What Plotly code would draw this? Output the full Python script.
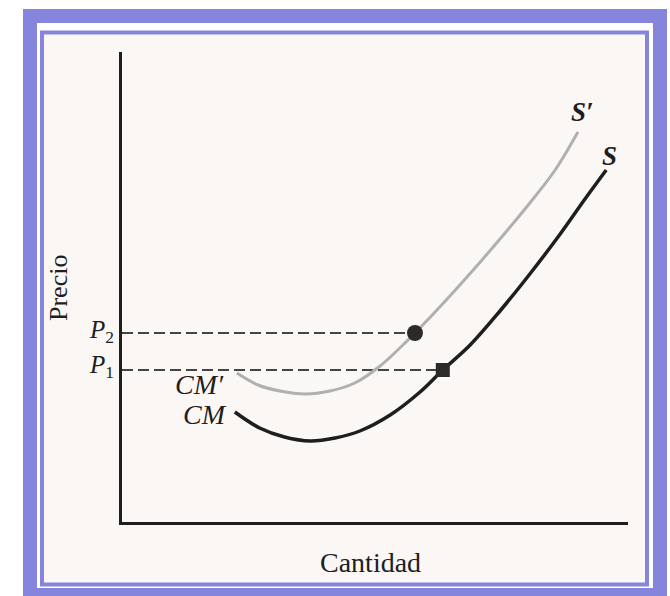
import plotly.graph_objects as go

# Supply curve S (black, starting at CM) : quantity / price
q_s = [2.23, 2.72, 3.21, 3.72, 4.21, 4.70, 5.30, 5.89, 6.34, 6.88, 7.47, 8.06, 8.66, 9.15, 9.57]
p_s = [2.20, 1.88, 1.70, 1.62, 1.68, 1.82, 2.14, 2.60, 3.04, 3.54, 4.22, 4.96, 5.76, 6.46, 7.04]

# Supply curve S' (gray, starting at CM')
q_sp = [2.27, 2.69, 3.12, 3.62, 4.11, 4.60, 5.10, 5.79, 6.48, 7.08, 7.57, 8.06, 8.56, 9.01]
p_sp = [2.98, 2.74, 2.62, 2.56, 2.62, 2.78, 3.12, 3.78, 4.52, 5.20, 5.78, 6.38, 7.04, 7.80]

# Equilibrium points
q1, p1 = 6.34, 3.04
q2, p2 = 5.79, 3.78

x_title = "Cantidad"
y_title = "Precio"

W, H = 670, 596
L, R, T, B = 122, 42, 52, 74
PW, PH = W - L - R, H - T - B


def px(x):
    return (x - L) / PW


def py(y):
    return (H - B - y) / PH


FONT = "Liberation Serif, Times New Roman, serif"
INK = "#1e1e1e"
GRAY = "#b0b0b0"
PURPLE = "#8585dd"

fig = go.Figure()

# dashed price guides
for qq, pp in [(q2, p2), (q1, p1)]:
    fig.add_trace(go.Scatter(x=[0, qq], y=[pp, pp], mode="lines",
                             line=dict(color="#444444", width=2, dash="11px,5px"),
                             hoverinfo="skip", showlegend=False))

fig.add_trace(go.Scatter(x=q_sp, y=p_sp, mode="lines", line_shape="spline",
                         line=dict(color=GRAY, width=3), showlegend=False))
fig.add_trace(go.Scatter(x=q_s, y=p_s, mode="lines", line_shape="spline",
                         line=dict(color=INK, width=3.5), showlegend=False))

fig.add_trace(go.Scatter(x=[q2], y=[p2], mode="markers",
                         marker=dict(symbol="circle", size=16, color="#2a2a2a"),
                         showlegend=False))
fig.add_trace(go.Scatter(x=[q1], y=[p1], mode="markers",
                         marker=dict(symbol="square", size=14, color="#2a2a2a"),
                         showlegend=False))

shapes = [
    # page background inside frame
    dict(type="rect", xref="paper", yref="paper", layer="below",
         x0=px(44), x1=px(645), y0=py(583), y1=py(35),
         fillcolor="#fbf7f5", line=dict(width=0)),
    # outer frame band
    dict(type="rect", xref="paper", yref="paper", layer="above",
         x0=px(30), x1=px(660), y0=py(595), y1=py(16),
         line=dict(color=PURPLE, width=14)),
    # inner thin frame
    dict(type="rect", xref="paper", yref="paper", layer="above",
         x0=px(42), x1=px(647), y0=py(584.5), y1=py(32.5),
         line=dict(color=PURPLE, width=4)),
]


def label(text, x, y, size, angle=0):
    return dict(text=text, x=px(x), y=py(y), xref="paper", yref="paper",
                xanchor="center", yanchor="middle", textangle=angle,
                showarrow=False, font=dict(size=size, color=INK, family=FONT))


ann = [
    label("<i>P</i><sub>2</sub>", 101, 331, 25),
    label("<i>P</i><sub>1</sub>", 101, 366, 25),
    label("<i>CM′</i>", 199, 384, 28),
    label("<i>CM</i>", 205, 414, 28),
    label("<i><b>S′</b></i>", 582, 112, 27),
    label("<i><b>S</b></i>", 609, 156, 27),
    label(y_title, 58, 288, 26, -90),
    label(x_title, 370, 562, 28),
]

fig.update_layout(
    width=W, height=H,
    margin=dict(l=L, r=R, t=T, b=B),
    paper_bgcolor="white",
    plot_bgcolor="rgba(0,0,0,0)",
    shapes=shapes,
    annotations=ann,
    xaxis=dict(range=[0, 10], showgrid=False, zeroline=False, showticklabels=False,
               ticks="", showline=True, linecolor=INK, linewidth=3, fixedrange=True),
    yaxis=dict(range=[0, 9.4], showgrid=False, zeroline=False, showticklabels=False,
               ticks="", showline=True, linecolor=INK, linewidth=2.5, fixedrange=True),
)

fig.write_html("out.html", config={"displayModeBar": False},
               post_script="document.body.style.margin='0px';document.body.style.overflow='hidden';")
